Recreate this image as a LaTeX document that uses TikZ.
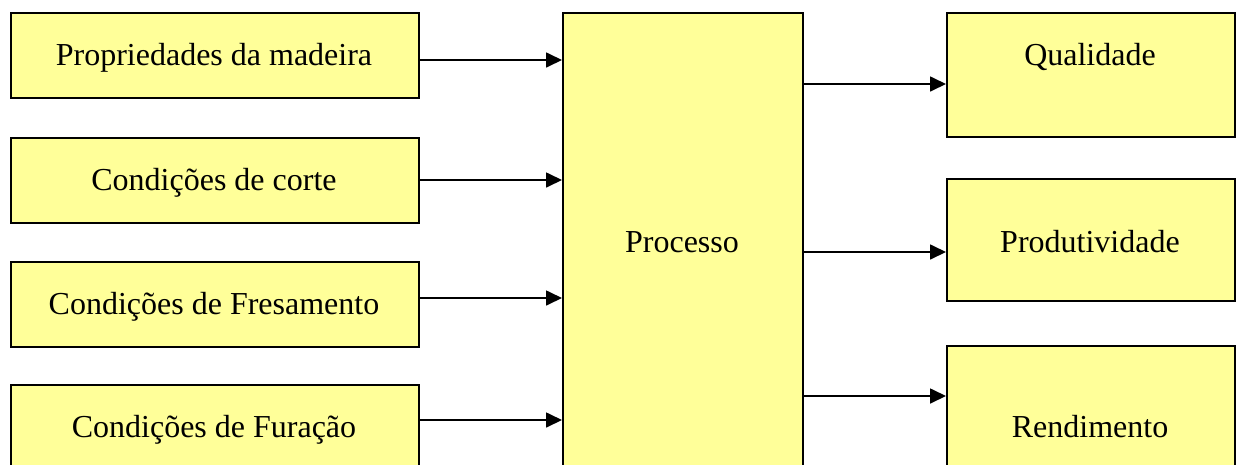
\documentclass[tikz,border=0pt]{standalone}
\usepackage{fontspec}
\setmainfont{Liberation Serif}
\usetikzlibrary{arrows.meta}
\definecolor{boxfill}{HTML}{FFFF99}
\begin{document}
\begin{tikzpicture}[x=1pt,y=-1pt,
  box/.style={draw=black, line width=1.7pt, fill=boxfill, anchor=north west, inner sep=0pt},
  lbl/.style={font=\fontsize{32}{36}\selectfont, anchor=base, inner sep=0pt},
  arr/.style={line width=1.7pt, -{Triangle[length=16pt,width=15pt]}}]
\useasboundingbox (0,0) rectangle (1236,464);
\begin{scope}
\clip (0,0) rectangle (1236,464);
% left boxes
\node[box, minimum width=408pt, minimum height=85pt] (b1) at (10,12) {};
\node[box, minimum width=408pt, minimum height=85pt] (b2) at (10,137) {};
\node[box, minimum width=408pt, minimum height=85pt] (b3) at (10,261) {};
\node[box, minimum width=408pt, minimum height=100pt] (b4) at (10,384) {};
% process
\node[box, minimum width=240pt, minimum height=470pt] (proc) at (562,12) {};
% right boxes
\node[box, minimum width=288pt, minimum height=124pt] (q) at (946,12) {};
\node[box, minimum width=288pt, minimum height=122pt] (pr) at (946,178) {};
\node[box, minimum width=288pt, minimum height=140pt] (r) at (946,345) {};
\end{scope}
% labels
\node[lbl] (t1) at (214,65) {Propriedades da madeira};
\node[lbl] (t2) at (214,190) {Condições de corte};
\node[lbl] (t3) at (214,314) {Condições de Fresamento};
\node[lbl] (t4) at (214,437) {Condições de Furação};
\node[lbl] (tp) at (682,252) {Processo};
\node[lbl] (tq) at (1090,65) {Qualidade};
\node[lbl] (tpr) at (1090,252) {Produtividade};
\node[lbl] (tr) at (1090,437) {Rendimento};
% arrows in
\draw[arr] (b1.east |- 0,60) -- (proc.west |- 0,60);
\draw[arr] (b2.east |- 0,180) -- (proc.west |- 0,180);
\draw[arr] (b3.east |- 0,298) -- (proc.west |- 0,298);
\draw[arr] (b4.east |- 0,420) -- (proc.west |- 0,420);
% arrows out
\draw[arr] (proc.east |- 0,84) -- (q.west |- 0,84);
\draw[arr] (proc.east |- 0,252) -- (pr.west |- 0,252);
\draw[arr] (proc.east |- 0,396) -- (r.west |- 0,396);
\end{tikzpicture}
\end{document}
